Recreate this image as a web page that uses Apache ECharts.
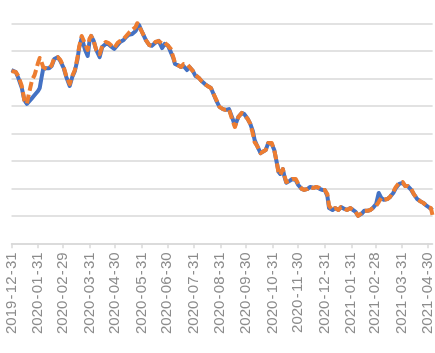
<!DOCTYPE html>
<html lang="en">
<head>
    <meta charset="UTF-8">
    <title>Line chart</title>
    <style>
        html,body{
            padding: 0;margin: 0;background: #fff;
        }
        #chart{
            width: 435px;height: 353px;
        }
    </style>
    <script src="https://cdn.jsdelivr.net/npm/echarts@6/dist/echarts.min.js"></script>
</head>
<body>
<div id="chart"></div>
<script>
    // sample dates
    var dates = [
        '2019-12-31','2020-01-02','2020-01-05','2020-01-08','2020-01-12','2020-01-15','2020-01-18','2020-01-20','2020-01-24','2020-01-27',
        '2020-01-31','2020-02-02','2020-02-04','2020-02-06','2020-02-10','2020-02-13','2020-02-16','2020-02-19','2020-02-23','2020-02-26',
        '2020-03-01','2020-03-04','2020-03-08','2020-03-11','2020-03-14','2020-03-17','2020-03-19','2020-03-22','2020-03-24','2020-03-26',
        '2020-03-29','2020-03-31','2020-04-02','2020-04-05','2020-04-08','2020-04-12','2020-04-15','2020-04-19','2020-04-22','2020-04-26',
        '2020-04-29','2020-05-03','2020-05-06','2020-05-10','2020-05-13','2020-05-16','2020-05-20','2020-05-24','2020-05-26','2020-05-28',
        '2020-06-01','2020-06-05','2020-06-09','2020-06-12','2020-06-16','2020-06-20','2020-06-24','2020-06-27','2020-07-01','2020-07-04',
        '2020-07-07','2020-07-09','2020-07-12','2020-07-16','2020-07-19','2020-07-23','2020-07-26','2020-07-30','2020-08-02','2020-08-06',
        '2020-08-09','2020-08-13','2020-08-16','2020-08-20','2020-08-23','2020-08-27','2020-08-30','2020-09-03','2020-09-06','2020-09-10',
        '2020-09-12','2020-09-14','2020-09-17','2020-09-19','2020-09-21','2020-09-25','2020-09-28','2020-10-02','2020-10-05','2020-10-08',
        '2020-10-10','2020-10-13','2020-10-17','2020-10-19','2020-10-23','2020-10-26','2020-10-30','2020-11-02','2020-11-05','2020-11-07',
        '2020-11-09','2020-11-12','2020-11-14','2020-11-16','2020-11-20','2020-11-23','2020-11-27','2020-11-30','2020-12-04','2020-12-07',
        '2020-12-11','2020-12-14','2020-12-18','2020-12-21','2020-12-25','2020-12-28','2020-12-31','2021-01-03','2021-01-05','2021-01-09',
        '2021-01-12','2021-01-16','2021-01-19','2021-01-23','2021-01-26','2021-01-30','2021-02-01','2021-02-05','2021-02-08','2021-02-12',
        '2021-02-15','2021-02-19','2021-02-22','2021-02-25','2021-03-01','2021-03-04','2021-03-07','2021-03-10','2021-03-14','2021-03-17',
        '2021-03-21','2021-03-24','2021-03-28','2021-04-01','2021-04-04','2021-04-07','2021-04-11','2021-04-14','2021-04-18','2021-04-21',
        '2021-04-25','2021-04-28','2021-05-01','2021-05-04','2021-05-06'
    ];

    var blueValues = [
        1.230,1.226,1.223,1.201,1.165,1.121,1.107,1.114,1.128,1.139,
        1.154,1.165,1.201,1.234,1.237,1.237,1.245,1.270,1.277,1.263,
        1.237,1.205,1.172,1.205,1.226,1.267,1.310,1.347,1.347,1.303,
        1.281,1.332,1.354,1.336,1.303,1.277,1.314,1.325,1.325,1.314,
        1.307,1.321,1.332,1.339,1.350,1.358,1.361,1.372,1.383,1.394,
        1.365,1.339,1.321,1.318,1.329,1.336,1.310,1.325,1.318,1.296,
        1.274,1.252,1.248,1.241,1.245,1.230,1.241,1.226,1.208,1.201,
        1.190,1.179,1.172,1.165,1.143,1.114,1.096,1.088,1.085,1.088,
        1.092,1.056,1.027,1.034,1.059,1.074,1.070,1.052,1.034,1.008,
        0.976,0.954,0.928,0.921,0.939,0.965,0.961,0.939,0.892,0.860,
        0.852,0.870,0.841,0.820,0.827,0.834,0.830,0.812,0.798,0.794,
        0.798,0.805,0.801,0.805,0.798,0.794,0.794,0.772,0.728,0.721,
        0.728,0.721,0.732,0.725,0.721,0.728,0.725,0.714,0.700,0.707,
        0.718,0.718,0.721,0.728,0.743,0.783,0.765,0.758,0.761,0.768,
        0.783,0.801,0.816,0.820,0.808,0.808,0.794,0.779,0.761,0.754,
        0.747,0.739,0.732,0.725,0.721
    ];

    var orangeValues = [
        1.226,1.223,1.223,1.208,1.172,1.121,1.107,1.139,1.194,1.212,
        1.256,1.274,1.259,1.241,1.234,1.237,1.248,1.274,1.277,1.267,
        1.241,1.208,1.179,1.208,1.230,1.274,1.314,1.354,1.361,1.325,
        1.303,1.343,1.354,1.336,1.303,1.288,1.318,1.332,1.329,1.318,
        1.310,1.329,1.336,1.343,1.354,1.365,1.376,1.387,1.401,1.401,
        1.365,1.339,1.321,1.318,1.332,1.336,1.325,1.329,1.318,1.307,
        1.277,1.256,1.248,1.241,1.252,1.252,1.241,1.226,1.212,1.201,
        1.190,1.179,1.172,1.165,1.143,1.117,1.096,1.088,1.085,1.088,
        1.088,1.048,1.023,1.030,1.059,1.074,1.066,1.052,1.034,0.998,
        0.968,0.954,0.928,0.921,0.939,0.965,0.965,0.939,0.892,0.856,
        0.848,0.870,0.845,0.823,0.827,0.834,0.834,0.816,0.798,0.794,
        0.798,0.805,0.801,0.805,0.801,0.794,0.794,0.779,0.736,0.721,
        0.728,0.721,0.732,0.725,0.721,0.728,0.725,0.714,0.700,0.710,
        0.718,0.718,0.721,0.728,0.736,0.750,0.765,0.758,0.761,0.768,
        0.787,0.805,0.820,0.823,0.808,0.808,0.798,0.779,0.761,0.754,
        0.747,0.739,0.732,0.728,0.700
    ];

    var firstDay = '2019-12-31';
    var lastDay = '2021-05-06';

    // every calendar day on the axis, labels only on month ends
    var days = [];
    for (var t = Date.parse(firstDay + 'T00:00:00Z'); t <= Date.parse(lastDay + 'T00:00:00Z'); t += 86400000) {
        days.push(new Date(t).toISOString().slice(0, 10));
    }

    function isMonthEnd(d) {
        var next = new Date(Date.parse(d + 'T00:00:00Z') + 86400000);
        return next.getUTCDate() === 1;
    }

    function pairs(vals) {
        return dates.map(function (d, i) { return [d, vals[i]]; });
    }

    var myChart = echarts.init(document.getElementById('chart'));

    var option = {
        animation: false,
        grid: {
            left: 11.5, right: 0, top: 23.3, bottom: 109.7
        },
        xAxis: {
            type: 'category',
            data: days,
            boundaryGap: false,
            axisLine: { lineStyle: { color: '#d9d9d9', width: 1.5 } },
            axisTick: {
                length: 5,
                lineStyle: { color: '#d9d9d9', width: 1.5 },
                interval: function (i, v) { return isMonthEnd(v); }
            },
            axisLabel: {
                rotate: 90,
                margin: 9,
                color: '#8c8c8c',
                fontSize: 15,
                fontFamily: 'Liberation Sans',
                interval: function (i, v) { return isMonthEnd(v); },
                formatter: function (v) { return v.replace(/-/g, '\u200a-\u200a'); }
            },
            splitLine: { show: false }
        },
        yAxis: {
            type: 'value',
            min: 0.6, max: 1.4, interval: 0.1,
            axisLine: { show: false },
            axisTick: { show: false },
            axisLabel: { show: false },
            splitLine: { lineStyle: { color: '#d9d9d9', width: 1.5 } }
        },
        series: [
            {
                name: 'blue',
                type: 'line',
                data: pairs(blueValues),
                symbol: 'none',
                lineStyle: { color: '#4472c4', width: 4, join: 'round' }
            },
            {
                name: 'orange',
                type: 'line',
                data: pairs(orangeValues),
                symbol: 'none',
                lineStyle: { color: '#ed7d31', width: 4, type: [9, 4], join: 'round' }
            }
        ]
    };
    myChart.setOption(option);
</script>
</body>
</html>
